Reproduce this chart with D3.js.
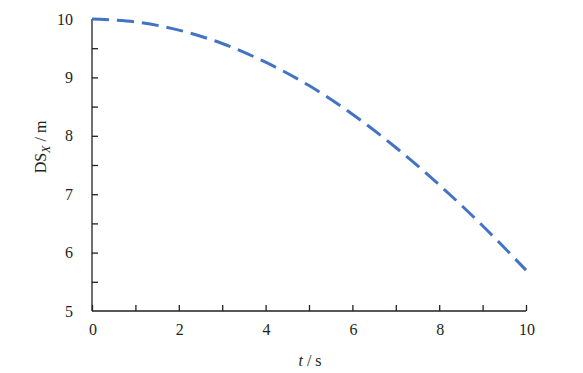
<!DOCTYPE html>
<html>
<head>
<meta charset="utf-8">
<script src="https://cdn.jsdelivr.net/npm/d3@7"></script>
<style>
  body { margin: 0; background: #fff; }
</style>
</head>
<body>
<div id="chart"></div>
<script>
// values
const times = [0, 1, 2, 3, 4, 5, 6, 7, 8, 9, 10];
const dsx = [10, 9.95, 9.81, 9.58, 9.26, 8.86, 8.37, 7.80, 7.16, 6.46, 5.70];
const xTicks = [0, 2, 4, 6, 8, 10];
const yTicks = [5, 6, 7, 8, 9, 10];

const width = 583, height = 373;
const margin = { top: 19, right: 57, bottom: 62, left: 92 };
const font = 'Liberation Serif';
const axisColor = '#231f20';

const svg = d3.select('#chart').append('svg')
    .attr('width', width)
    .attr('height', height);

const x = d3.scaleLinear().domain([0, 10]).range([margin.left, width - margin.right]);
const y = d3.scaleLinear().domain([5, 10]).range([height - margin.bottom, margin.top]);

// x axis, ticks pointing inward
const xAxis = svg.append('g')
    .attr('transform', `translate(0, ${y(5)})`)
    .call(d3.axisTop(x).tickValues(d3.range(0, 11, 1)).tickSize(6).tickFormat(''));
xAxis.select('.domain').attr('d', `M${x(0)},0H${x(10)}`);
xAxis.selectAll('line, path').attr('stroke', axisColor).attr('stroke-width', 1.3);

svg.append('g').selectAll('text')
    .data(xTicks)
    .enter().append('text')
    .attr('x', d => x(d) + 1)
    .attr('y', 335)
    .attr('text-anchor', 'middle')
    .attr('font-family', font)
    .attr('font-size', 16)
    .attr('fill', axisColor)
    .text(d => d);

// y axis
const yAxis = svg.append('g')
    .attr('transform', `translate(${x(0)}, 0)`)
    .call(d3.axisRight(y).tickValues(d3.range(5, 10.01, 0.5)).tickSize(6).tickFormat(''));
yAxis.select('.domain').attr('d', `M0,${y(5)}V${y(10)}`);
yAxis.selectAll('line, path').attr('stroke', axisColor).attr('stroke-width', 1.3);
yAxis.selectAll('.tick').filter(d => d === 5 || d === 10).select('line').remove();

svg.append('g').selectAll('text')
    .data(yTicks)
    .enter().append('text')
    .attr('x', x(0) - 19)
    .attr('y', d => y(d))
    .attr('dy', '0.35em')
    .attr('text-anchor', 'end')
    .attr('font-family', font)
    .attr('font-size', 16)
    .attr('fill', axisColor)
    .text(d => d);

// axis titles
const xt = svg.append('text')
    .attr('x', 310)
    .attr('y', 366)
    .attr('text-anchor', 'middle')
    .attr('font-family', font)
    .attr('font-size', 16)
    .attr('fill', axisColor);
xt.append('tspan').attr('font-style', 'italic').text('t');
xt.append('tspan').text(' / s');

const yt = svg.append('text')
    .attr('transform', 'translate(46, 147) rotate(-90)')
    .attr('text-anchor', 'middle')
    .attr('font-family', font)
    .attr('font-size', 16)
    .attr('fill', axisColor);
yt.append('tspan').text('DS');
yt.append('tspan').attr('font-style', 'italic').attr('font-size', 12).attr('dy', 4).text('X');
yt.append('tspan').attr('dy', -4).text(' / m');

// the curve
const line = d3.line()
    .x((d, i) => x(times[i]))
    .y(d => y(d))
    .curve(d3.curveCatmullRom);

svg.append('path')
    .datum(dsx)
    .attr('d', line)
    .attr('fill', 'none')
    .attr('stroke', '#4472c4')
    .attr('stroke-width', 3)
    .attr('stroke-dasharray', '17,8');
</script>
</body>
</html>
